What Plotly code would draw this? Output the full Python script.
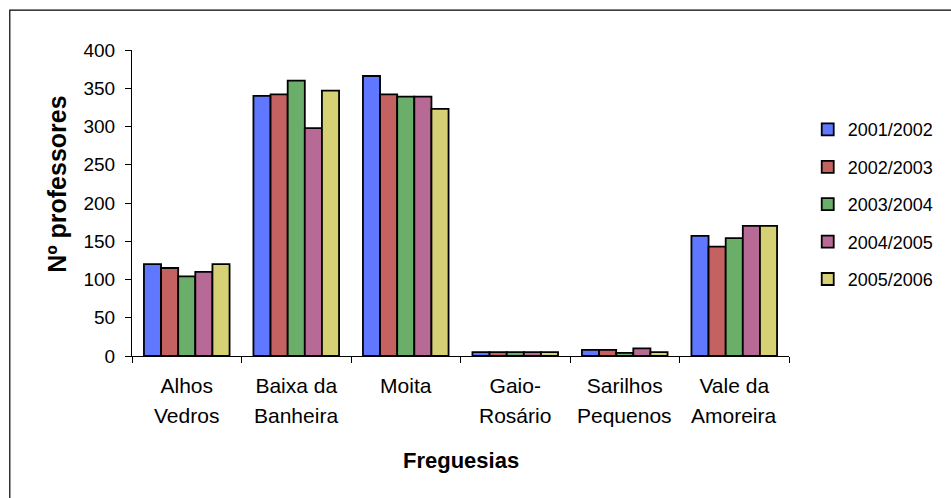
import plotly.graph_objects as go

# Freguesias (two-line labels: first line, second line)
freguesias = ["Alhos Vedros", "Baixa da Banheira", "Moita", "Gaio-Rosário",
              "Sarilhos Pequenos", "Vale da Amoreira"]
label_line1 = ["Alhos", "Baixa da", "Moita", "Gaio-", "Sarilhos", "Vale da"]
label_line2 = ["Vedros", "Banheira", "", "Rosário", "Pequenos", "Amoreira"]

anos = ["2001/2002", "2002/2003", "2003/2004", "2004/2005", "2005/2006"]

professores = {
    "2001/2002": [120, 340, 366, 5, 8, 157],
    "2002/2003": [115, 342, 342, 5, 8, 143],
    "2003/2004": [104, 360, 339, 5, 4, 154],
    "2004/2005": [110, 298, 339, 5, 10, 170],
    "2005/2006": [120, 347, 323, 5, 5, 170],
}

cores = {
    "2001/2002": "#5f78ff",
    "2002/2003": "#c46262",
    "2003/2004": "#6aae6a",
    "2004/2005": "#b86a96",
    "2005/2006": "#d6d174",
}

fonte = "Liberation Sans, Arial, sans-serif"

fig = go.Figure()
for ano in anos:
    fig.add_trace(go.Bar(
        name=ano,
        x=freguesias,
        y=professores[ano],
        marker=dict(color=cores[ano], line=dict(color="black", width=1.8)),
        legendgroup=ano,
    ))

annotations = []
# second line of each category label
for cat, l2 in zip(freguesias, label_line2):
    if l2:
        annotations.append(dict(
            x=cat, xref="x", y=0, yref="paper", yshift=-59, yanchor="middle",
            text=l2, showarrow=False, font=dict(family=fonte, size=21, color="black"),
        ))
annotations.append(dict(
    x=0, xref="paper", xshift=-75, xanchor="center", y=0.56, yref="paper",
    yanchor="middle", textangle=-90,
    text="<b>Nº professores</b>", showarrow=False,
    font=dict(family=fonte, size=25, color="black"),
))
annotations.append(dict(
    x=0.5, xref="paper", xshift=0, xanchor="center", y=0, yref="paper",
    yshift=-104, yanchor="middle",
    text="<b>Freguesias</b>", showarrow=False,
    font=dict(family=fonte, size=22, color="black"),
))

fig.update_layout(
    width=951, height=498,
    margin=dict(l=132, r=151, t=50, b=142),
    paper_bgcolor="white", plot_bgcolor="white",
    barmode="group", bargap=0.218, bargroupgap=0,
    font=dict(family=fonte, size=18, color="black"),
    showlegend=True,
    legend=dict(x=1.0285, xanchor="left", y=0.80, yanchor="top",
                font=dict(family=fonte, size=18, color="black"),
                tracegroupgap=11, bgcolor="rgba(0,0,0,0)"),
    annotations=annotations,
    shapes=[dict(type="rect", xref="paper", yref="paper",
                 x0=-0.186, x1=1.3, y0=-0.5, y1=1.13,
                 line=dict(color="black", width=1.2))],
)

fig.update_xaxes(
    tickmode="array", tickvals=freguesias, ticktext=label_line1,
    tickson="boundaries", ticks="outside", ticklen=6, tickcolor="black",
    ticklabelstandoff=11,
    showline=True, linecolor="black", linewidth=1, showgrid=False,
    tickfont=dict(family=fonte, size=21, color="black"),
)
fig.update_yaxes(
    range=[0, 400], dtick=50, ticks="outside", ticklen=6, tickcolor="black",
    ticklabelstandoff=6,
    showline=True, linecolor="black", linewidth=1, showgrid=False,
    zeroline=False, tickfont=dict(family=fonte, size=19, color="black"),
)

fig.write_html("out.html")
